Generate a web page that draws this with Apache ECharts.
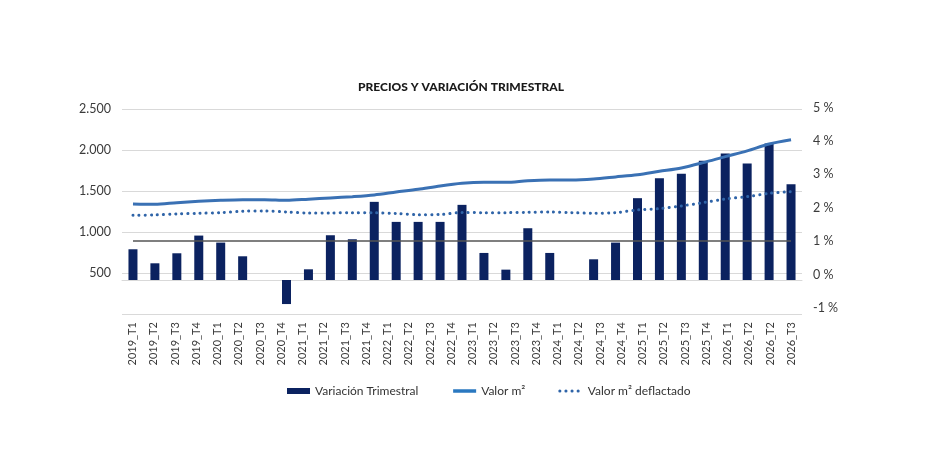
<!DOCTYPE html>
<html>
<head>
<meta charset="utf-8">
<script src="https://cdn.jsdelivr.net/npm/echarts@6/dist/echarts.min.js"></script>
<style>
  html, body { margin: 0; padding: 0; background: #ffffff; }
  #chart { width: 951px; height: 474px; }
</style>
</head>
<body>
<div id="chart"></div>
<script>
// Quarters (one per bar / line point)
const quarters = [
  '2019_T1','2019_T2','2019_T3','2019_T4',
  '2020_T1','2020_T2','2020_T3','2020_T4',
  '2021_T1','2021_T2','2021_T3','2021_T4',
  '2022_T1','2022_T2','2022_T3','2022_T4',
  '2023_T1','2023_T2','2023_T3','2023_T4',
  '2024_T1','2024_T2','2024_T3','2024_T4',
  '2025_T1','2025_T2','2025_T3','2025_T4',
  '2026_T1','2026_T2','2026_T3'
];

// Tick labels as printed under the axis (the reference repeats 2026_T2)
const tickLabels = [
  '2019_T1','2019_T2','2019_T3','2019_T4',
  '2020_T1','2020_T2','2020_T3','2020_T4',
  '2021_T1','2021_T2','2021_T3','2021_T4',
  '2022_T1','2022_T2','2022_T3','2022_T4',
  '2023_T1','2023_T2','2023_T3','2023_T4',
  '2024_T1','2024_T2','2024_T3','2024_T4',
  '2025_T1','2025_T2','2025_T3','2025_T4',
  '2026_T1','2026_T2','2026_T2','2026_T3'
];

// Variación Trimestral (%)
const variacionTrimestral = [
  0.92, 0.50, 0.80, 1.33,
  1.12, 0.71, 0, -0.72,
  0.32, 1.34, 1.22, 2.34,
  1.74, 1.74, 1.74, 2.25,
  0.81, 0.31, 1.55, 0.81,
  0, 0.62, 1.12, 2.45,
  3.05, 3.18, 3.57, 3.79,
  3.49, 4.09, 2.87
];

// Valor m2
const valorM2 = [
  1342, 1338, 1358, 1375,
  1387, 1394, 1394, 1386,
  1400, 1415, 1431, 1452,
  1487, 1521, 1562, 1594,
  1606, 1606, 1626, 1635,
  1635, 1647, 1672, 1698,
  1740, 1781, 1846, 1919,
  1989, 2074, 2126
];

// Valor m2 deflactado
const valorM2Deflactado = [
  1204, 1208, 1220, 1228,
  1236, 1253, 1257, 1244,
  1232, 1232, 1236, 1234,
  1226, 1211, 1213, 1238,
  1236, 1236, 1240, 1244,
  1236, 1228, 1236, 1269,
  1285, 1318, 1358, 1403,
  1431, 1472, 1492
];

// Axis ticks
const leftTicks = { min: 0, max: 2500, interval: 500 };
const rightTicks = { min: -1, max: 5, interval: 1 };
const referenceLevel = 1; // %

const FONT = "Lato, 'Open Sans', 'Noto Sans', sans-serif";
const TXT = '#3b3b3b';
const HIDDEN_SYMBOL = { color: 'rgba(0,0,0,0)', borderWidth: 0, opacity: 0 };

function thousands(v) {
  return String(v).replace(/\B(?=(\d{3})+(?!\d))/g, '.');
}

const chart = echarts.init(document.getElementById('chart'), null, { renderer: 'canvas' });

chart.setOption({
  animation: false,
  backgroundColor: '#ffffff',
  textStyle: { fontFamily: FONT },
  title: {
    text: 'PRECIOS Y VARIACIÓN TRIMESTRAL',
    left: 353,
    top: 76,
    textStyle: { fontFamily: FONT, fontSize: 12, fontWeight: 900, color: '#1a1a1a' }
  },
  legend: {
    left: 282,
    top: 380,
    itemWidth: 23,
    itemHeight: 6,
    itemGap: 33,
    textStyle: { fontFamily: FONT, fontSize: 12, color: '#333333' },
    data: [
      { name: 'Variación Trimestral', icon: 'rect' },
      { name: 'Valor m²', itemStyle: HIDDEN_SYMBOL, lineStyle: { width: 3.5, color: '#2a78c0' } },
      { name: 'Valor m² deflactado', itemStyle: HIDDEN_SYMBOL, lineStyle: { width: 3, color: '#2f64a8' } }
    ]
  },
  grid: [
    { left: 122, right: 149, top: 109, bottom: 160 },
    { left: 122, right: 149, top: 107.5, height: 200.5 }
  ],
  xAxis: [
    { type: 'category', gridIndex: 0, data: quarters, show: false, boundaryGap: true },
    {
      type: 'category', gridIndex: 0, data: tickLabels, position: 'bottom', boundaryGap: true,
      axisLine: { show: true, lineStyle: { color: '#d9d9d9', width: 1 } },
      axisTick: { show: false },
      axisLabel: { rotate: 90, interval: 0, margin: 8, fontFamily: FONT, fontSize: 11, color: TXT }
    },
    { type: 'category', gridIndex: 1, data: quarters, show: false, boundaryGap: true }
  ],
  yAxis: [
    {
      type: 'value', gridIndex: 0, position: 'left',
      min: leftTicks.min, max: leftTicks.max, interval: leftTicks.interval,
      axisLine: { show: false }, axisTick: { show: false },
      splitLine: { show: true, lineStyle: { color: '#d9d9d9', width: 1 } },
      axisLabel: {
        margin: 11, fontFamily: FONT, fontSize: 12.5, color: TXT,
        formatter: v => (v === 0 ? '' : thousands(v))
      }
    },
    {
      // scale used by the bars (its zero sits slightly below the printed 0 % label)
      type: 'value', gridIndex: 0, position: 'right',
      min: -1.018, max: 5.12, show: false, splitLine: { show: false }
    },
    {
      type: 'value', gridIndex: 1, position: 'right',
      min: rightTicks.min, max: rightTicks.max, interval: rightTicks.interval,
      axisLine: { show: false }, axisTick: { show: false }, splitLine: { show: false },
      axisLabel: {
        margin: 11, fontFamily: FONT, fontSize: 12.5, color: TXT,
        formatter: v => v + ' %'
      }
    }
  ],
  series: [
    {
      name: 'Variación Trimestral', type: 'bar',
      xAxisIndex: 0, yAxisIndex: 1,
      data: variacionTrimestral,
      barWidth: 9,
      itemStyle: { color: '#0b2260' },
      z: 2
    },
    {
      name: 'Valor m²', type: 'line',
      xAxisIndex: 0, yAxisIndex: 0,
      data: valorM2, smooth: 0.3, symbol: 'none',
      lineStyle: { color: '#3a71b4', width: 3 },
      itemStyle: { color: '#3a71b4' },
      z: 3
    },
    {
      name: 'Valor m² deflactado', type: 'line',
      xAxisIndex: 0, yAxisIndex: 0,
      data: valorM2Deflactado, smooth: 0.3, symbol: 'none',
      lineStyle: { color: '#2f64a8', width: 3, type: [0.1, 6], cap: 'round' },
      itemStyle: { color: '#2f64a8' },
      z: 3
    },
    {
      name: 'ref', type: 'line',
      xAxisIndex: 2, yAxisIndex: 2,
      data: quarters.map(() => null),
      symbol: 'none', silent: true,
      markLine: {
        silent: true, symbol: ['none', 'none'], label: { show: false },
        lineStyle: { color: '#555555', width: 1.5, type: 'solid' },
        data: [[
          { xAxis: quarters[0], yAxis: referenceLevel },
          { xAxis: quarters[quarters.length - 1], yAxis: referenceLevel }
        ]]
      },
      z: 1
    }
  ]
});
</script>
</body>
</html>
